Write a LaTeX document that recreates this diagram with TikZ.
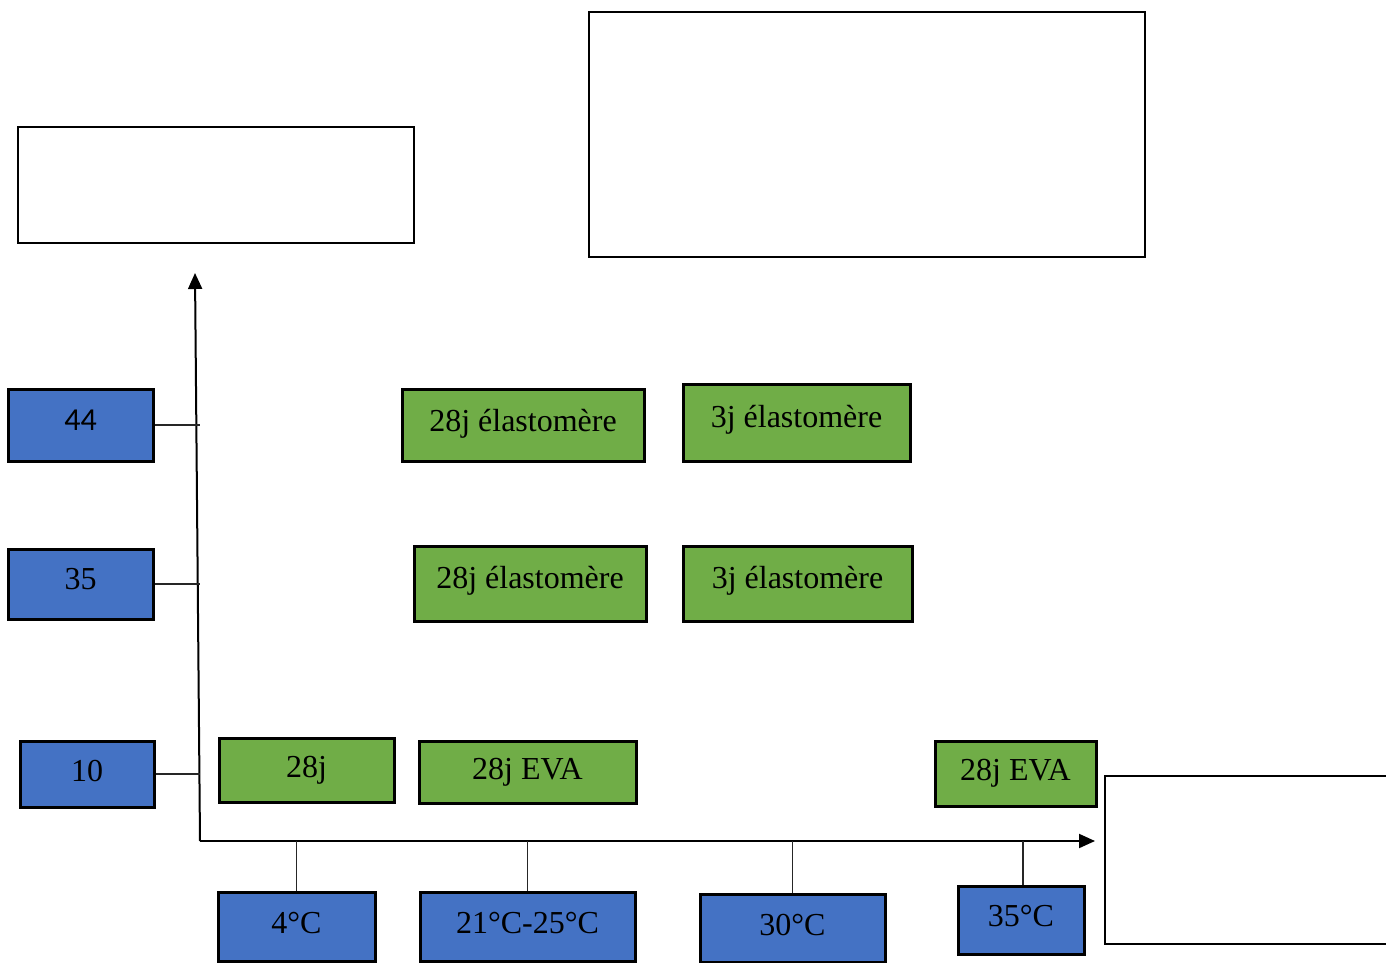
\documentclass[tikz,border=0pt]{standalone}
\usepackage{fontspec}
\setmainfont{Liberation Serif}
\newfontfamily\calibfont{Carlito}
\usetikzlibrary{arrows.meta}
\definecolor{boxblue}{HTML}{4472C4}
\definecolor{boxgreen}{HTML}{70AD47}
\begin{document}
\begin{tikzpicture}[x=0.5pt,y=-0.5pt,
  basebox/.style={draw=black, line width=1.5pt, inner sep=0pt, font=\fontsize{16}{18}\selectfont},
  bluebox/.style={basebox, fill=boxblue},
  greenbox/.style={basebox, fill=boxgreen},
  emptybox/.style={draw=black, line width=1.2pt, fill=white, inner sep=0pt},
  axis/.style={line width=1pt, -{Triangle[length=8pt,width=7pt]}},
  tick/.style={line width=0.8pt, draw=black!85},
  sz/.style 2 args={minimum width=#1*0.5pt, minimum height=#2*0.5pt}]
\useasboundingbox (0,0) rectangle (1386,963);

% empty frames
\node[emptybox, sz={396}{116}] (frameA) at (216,185) {};
\node[emptybox, sz={556}{245}] (frameB) at (867,134.5) {};
\node[emptybox, sz={290}{168}] (frameC) at (1250,860) {};

% axes
\coordinate (origin) at (200,841);
\coordinate (ytop) at (195,273);
\coordinate (xend) at (1095,841);
\draw[axis] (origin) -- (ytop);
\draw[axis] (origin) -- (xend);

% vertical scale boxes
\node[bluebox, sz={145}{72}] (v44) at (80.5,425) {\raisebox{5pt}{\calibfont 44}};
\node[bluebox, sz={145}{70}] (v35) at (80.5,584) {\raisebox{5pt}{35}};
\node[bluebox, sz={134}{66}] (v10) at (87,774) {\raisebox{3.5pt}{10}};
\draw[tick] (v44.east) -- (v44.east -| origin);
\draw[tick] (v35.east) -- (v35.east -| origin);
\draw[tick] (v10.east) -- (v10.east -| origin);

% temperature boxes
\node[bluebox, sz={157}{69}] (t4) at (296.5,926.5) {\raisebox{4pt}{4°C}};
\node[bluebox, sz={215}{69}] (t21) at (527.5,926.5) {\raisebox{4pt}{21°C-25°C}};
\node[bluebox, sz={185}{68}] (t30) at (792.5,928) {\raisebox{3pt}{30°C}};
\node[bluebox, sz={126}{68}] (t35) at (1021,920) {\raisebox{4pt}{35°C}};
\draw[tick] (t4.north) -- (t4.north |- origin);
\draw[tick] (t21.north) -- (t21.north |- origin);
\draw[tick] (t30.north) -- (t30.north |- origin);
\draw[tick] ([xshift=1pt]t35.north) -- ([xshift=1pt]t35.north |- origin);

% duration / material boxes
\node[greenbox, sz={242}{72}] (g1) at (523,425) {\raisebox{4.5pt}{28j élastomère}};
\node[greenbox, sz={227}{77}] (g2) at (796.5,422.5) {\raisebox{6.5pt}{3j élastomère}};
\node[greenbox, sz={232}{75}] (g3) at (530,583.5) {\raisebox{6pt}{28j élastomère}};
\node[greenbox, sz={229}{75}] (g4) at (797.5,583.5) {\raisebox{6pt}{3j élastomère}};
\node[greenbox, sz={175}{64}] (g5) at (306.5,770) {\raisebox{3pt}{28j}};
\node[greenbox, sz={217}{62}] (g6) at (527.5,772) {\raisebox{0.5pt}{28j EVA}};
\node[greenbox, sz={161}{65}] (g7) at (1015.5,773.5) {\raisebox{2pt}{28j EVA}};
\end{tikzpicture}
\end{document}
